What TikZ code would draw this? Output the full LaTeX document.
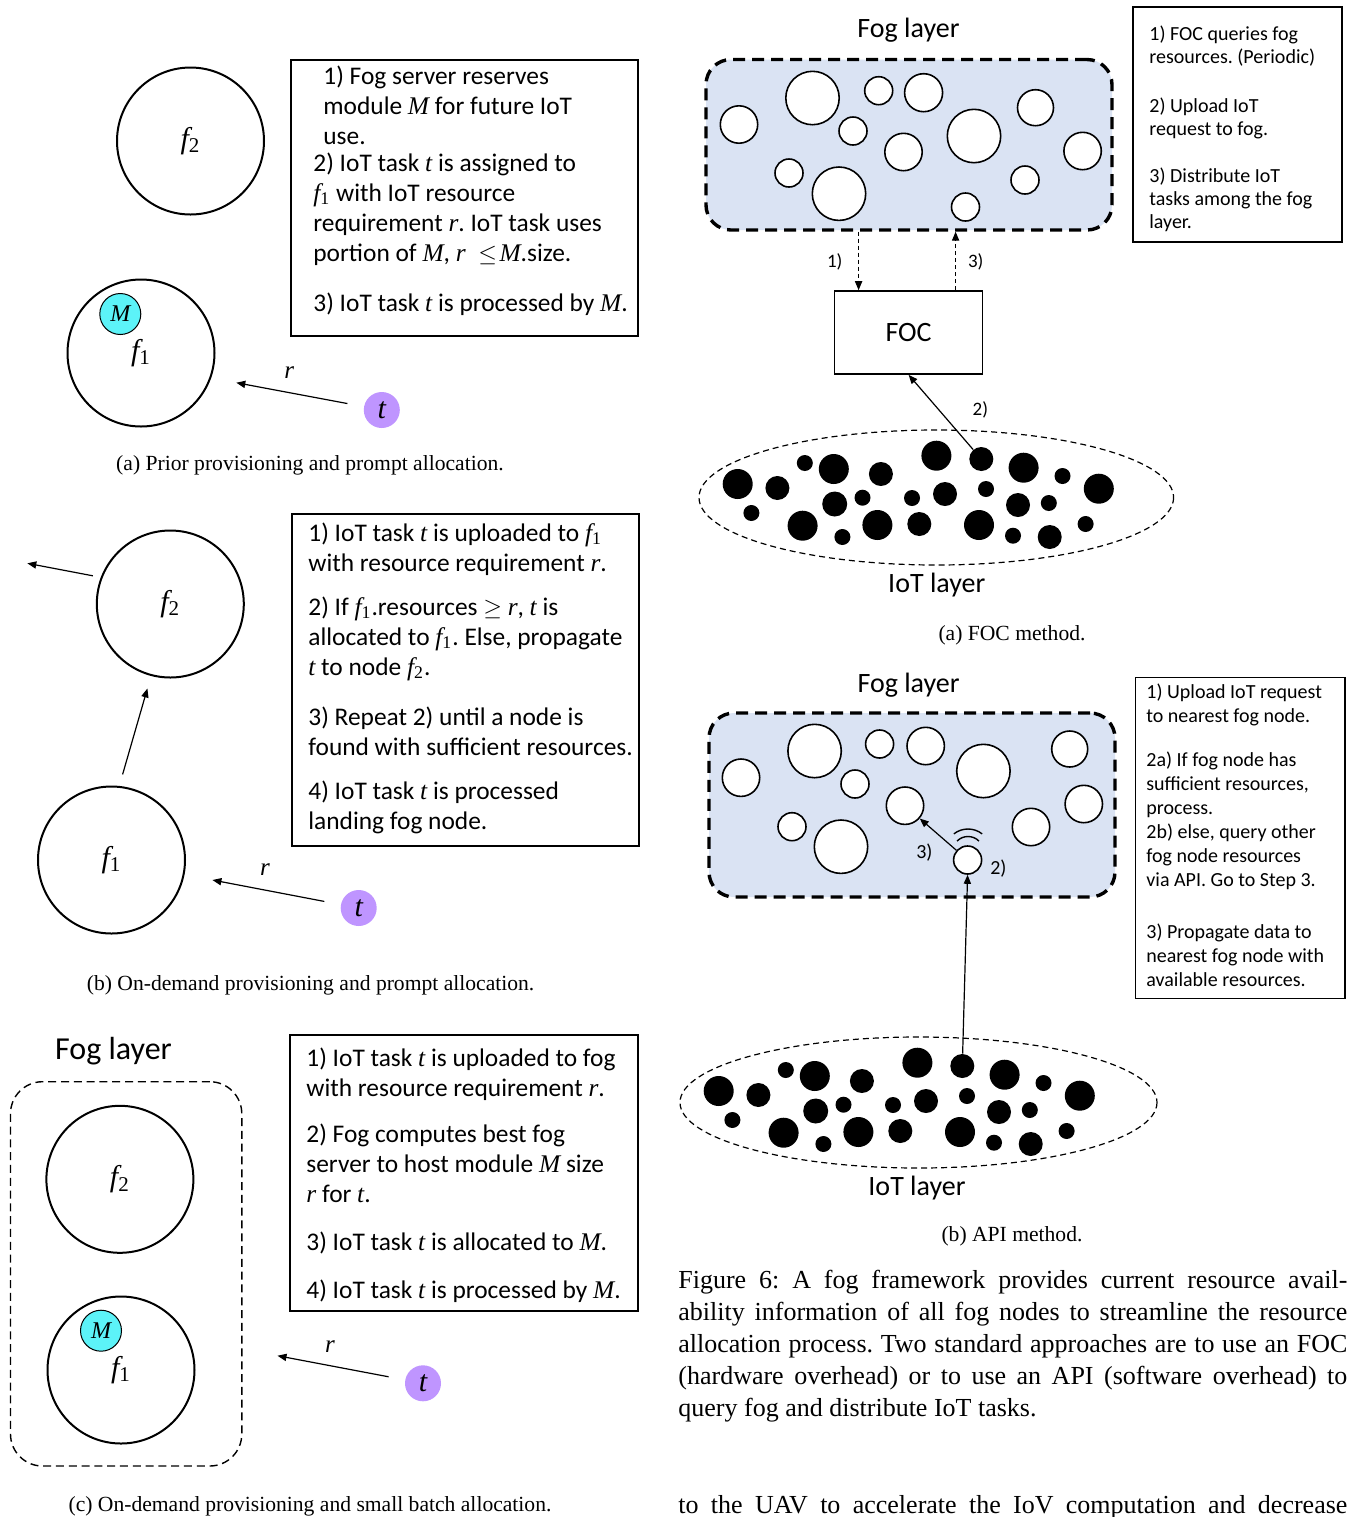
\documentclass[tikz,border=0pt]{standalone}
\usepackage{fontspec}
\setmainfont{Carlito}
\newfontfamily\serifcap{Liberation Serif}
\usetikzlibrary{arrows.meta,calc}
\definecolor{fogblue}{HTML}{DAE3F3}
\definecolor{modcyan}{HTML}{5CF3F8}
\definecolor{tasklav}{HTML}{BF95FF}
\newcommand\boxfontL{\fontsize{12.7}{15}\selectfont}
\newcommand\subcapfont{\serifcap\fontsize{10.8}{13}\selectfont}
% italic serif variables, optionally with a subscript
\newcommand\vi[1]{{\serifcap\itshape #1}}
\newcommand\vsub[2]{{\serifcap\itshape #1}\textsubscript{\serifcap #2}}
% IoT devices drawn as black dots (the device used by the arrow is a node)
\newcommand\iotdots{%
  \foreach \x/\y/\r in {737.7/484/15, 777.4/488/12, 804.8/463/8, 833.8/469/15,
      880.9/474/12, 936.4/455.7/15, 1023.6/467.7/15, 1062.5/476/8,
      1098.8/488.7/15, 751.4/513/8, 802.6/525.7/15, 834.7/504/12.5,
      862.5/497.7/8, 877.4/525/15, 912/498/8, 945/494/12, 986/489/8,
      919.3/524/12, 979/525/15, 1018/505/12, 1048.8/503/8, 1013/535.7/8,
      1049.7/537/12, 1085.6/524/8, 842.4/537/8}
    {\fill (\x,\y) circle[radius=\r];}}
\begin{document}
\frenchspacing
\begin{tikzpicture}[x=0.5pt,y=-0.5pt,
  arr/.style={line width=0.6pt,-{Triangle[length=4.5pt,width=3.6pt]}},
  dasharr/.style={arr,dash pattern=on 2pt off 1.5pt},
  fognode/.style={circle,draw,line width=1pt,minimum size=73.5pt,inner sep=0pt,
    font=\fontsize{15}{18}\selectfont},
  modnode/.style={circle,draw,line width=0.5pt,fill=modcyan,minimum size=20.5pt,
    inner sep=0pt,font=\fontsize{12}{14}\selectfont},
  tasknode/.style={circle,fill=tasklav,minimum size=18pt,inner sep=0pt,
    font=\fontsize{15}{17}\selectfont},
  rlabel/.style={font=\fontsize{12.5}{14}\selectfont,inner sep=0pt},
  infobox/.style={draw,line width=1pt,inner sep=0pt},
  smallbox/.style={draw,line width=0.8pt,inner sep=0pt},
  steptext/.style={anchor=base west,inner sep=0pt,text width=200pt,align=flush left,
    execute at begin node={\spaceskip=0pt\xspaceskip=0pt}},
  fogzone/.style={draw,fill=fogblue,line width=1.7pt,dash pattern=on 6pt off 3.5pt,
    rounded corners=12.5pt,inner sep=0pt},
  fogcirc/.style={draw,fill=white,line width=0.8pt},
  iotdot/.style={circle,fill=black,inner sep=0pt,minimum size=12pt},
  layertitle/.style={anchor=base,inner sep=0pt,font=\fontsize{14}{17}\selectfont},
  steplabel/.style={inner sep=0pt,font=\fontsize{9.5}{11}\selectfont},
  subcap/.style={anchor=base,inner sep=0pt,font=\subcapfont},
]
\useasboundingbox (0,0) rectangle (1351,1517);
\fill[white] (0,0) rectangle (1351,1517);
\clip (0,0) rectangle (1351,1517);

% ---------------- (a) prior provisioning, prompt allocation
\node[fognode] (f2A) at (190.5,141) {\raisebox{-2pt}{\vsub{f}{2}}};
\node[fognode] (f1A) at (141,353) {\raisebox{-2pt}{\vsub{f}{1}}};
\node[modnode] (MA) at (120.3,314) {\vi{M}};
\node[tasknode] (tA) at (381.8,410) {\vi{t}};
\coordinate (rA) at (236.3,382.7);
\draw[arr,shorten <=8.3pt] (tA) -- (rA);
\node[rlabel] (lrA) at (289.3,372.7) {\vi{r}};
\node[infobox,minimum width=173.5pt,minimum height=138pt] (boxA) at (464.5,198) {};
\node[steptext,font=\boxfontL] (txtA) at (313,84) {%
\hspace*{5pt}1) Fog server reserves\\
\hspace*{5pt}module \vi{M} for future IoT\\
\hspace*{5pt}use.\\[-1.5pt]
2) IoT task \vi{t} is assigned to\\
\vsub{f}{1} with IoT resource\\
requirement \vi{r}. IoT task uses\\
portion of \vi{M}, \vi{r}\hspace{0.5em}$\leq$\hspace{0.1em}\vi{M}.size.\\[10pt]
3) IoT task \vi{t} is processed by \vi{M}.};
\node[subcap] (capA) at (310,470) {(a) Prior provisioning and prompt allocation.};

% ---------------- (b) on-demand provisioning, prompt allocation
\node[fognode] (f2B) at (170.3,604) {\raisebox{-2pt}{\vsub{f}{2}}};
\node[fognode] (f1B) at (111.5,860) {\raisebox{-2pt}{\vsub{f}{1}}};
\node[tasknode] (tB) at (358.7,908) {\vi{t}};
\coordinate (rB) at (212.4,880);
\coordinate (outB) at (27.3,563.3);
\draw[arr,shorten <=8.3pt] (tB) -- (rB);
\draw[arr,shorten <=6pt,shorten >=6.5pt] (f1B.84) -- (f2B.-105);
\draw[arr,shorten <=4pt] (f2B.159) -- (outB);
\node[rlabel] (lrB) at (265,870) {\vi{r}};
\node[infobox,minimum width=173.5pt,minimum height=166pt] (boxB) at (465.5,679.5) {};
\node[steptext,font=\boxfontL] (txtB) at (308,541) {%
1) IoT task \vi{t} is uploaded to \vsub{f}{1}\\
with resource requirement \vi{r}.\\[7pt]
2) If \vsub{f}{1}.resources $\geq$ \vi{r}, \vi{t} is\\
allocated to \vsub{f}{1}. Else, propagate\\
\vi{t} to node \vsub{f}{2}.\\[10pt]
3) Repeat 2) until a node is\\
found with sufficient resources.\\[7pt]
4) IoT task \vi{t} is processed\\
landing fog node.};
\node[subcap] (capB) at (310.6,990) {(b) On-demand provisioning and prompt allocation.};

% ---------------- (c) on-demand provisioning, small batch allocation
\node[layertitle,font=\fontsize{16}{19}\selectfont] (titleC) at (113.5,1059.3) {Fog layer};
\node[draw,line width=0.7pt,dash pattern=on 4pt off 2.4pt,rounded corners=16pt,
  minimum width=115.65pt,minimum height=192.15pt,inner sep=0pt] (fogC) at (126.15,1273.85) {};
\node[fognode] (f2C) at (119.9,1179.3) {\raisebox{-2pt}{\vsub{f}{2}}};
\node[fognode] (f1C) at (121,1370) {\raisebox{-2pt}{\vsub{f}{1}}};
\node[modnode] (MC) at (101,1330.7) {\vi{M}};
\node[tasknode] (tC) at (423,1383.3) {\vi{t}};
\coordinate (rC) at (277.5,1355.7);
\draw[arr,shorten <=8.3pt] (tC) -- (rC);
\node[rlabel] (lrC) at (330,1346.7) {\vi{r}};
\node[infobox,minimum width=174pt,minimum height=138.25pt] (boxC) at (464,1172.75) {};
\node[steptext,font=\boxfontL] (txtC) at (306,1066) {%
1) IoT task \vi{t} is uploaded to fog\\
with resource requirement \vi{r}.\\[8pt]
2) Fog computes best fog\\
server to host module \vi{M} size\\
\vi{r} for \vi{t}.\\[9pt]
3) IoT task \vi{t} is allocated to \vi{M}.\\[9pt]
4) IoT task \vi{t} is processed by \vi{M}.};
\node[subcap] (capC) at (310,1511.7) {(c) On-demand provisioning and small batch allocation.};

% ---------------- FOC method
\node[layertitle] (titleFA) at (908.5,37.3) {Fog layer};
\node[fogzone,minimum width=203pt,minimum height=85.25pt] (fogA) at (909,144.75) {};
\foreach \x/\y/\r in {739/124.5/18.7, 812.5/98/26.7, 878.7/90.7/14, 923.6/92.7/19,
    853/131/14, 903.5/152/18.7, 974/136/26.7, 1035.5/107.7/18, 1082.6/151/18.7,
    789/173/14, 839/193.7/26.7, 1025/180/14, 965.5/207/14}
  {\draw[fogcirc] (\x,\y) circle[radius=\r];}
\node[draw,line width=0.8pt,minimum width=74pt,minimum height=41.5pt,inner sep=0pt,
  font=\fontsize{14}{17}\selectfont] (foc) at (908.6,332.5) {FOC};
\draw[dasharr] ([xshift=-25pt]foc.north |- fogA.south) -- ([xshift=-25pt]foc.north);
\draw[dasharr] ([xshift=23.5pt]foc.north) -- ([xshift=23.5pt]foc.north |- fogA.south);
\node[steplabel] (s1A) at (834.7,261.7) {1)};
\node[steplabel] (s3A) at (975.7,261.7) {3)};
\draw[dash pattern=on 3pt off 2pt,line width=0.6pt] (936.3,497.5) ellipse[x radius=237.3,y radius=67.5];
\iotdots
\node[iotdot] (iotA) at (981.3,459) {};
\draw[arr] (iotA) -- (foc.south);
\node[steplabel] (s2A) at (980.4,410) {2)};
\node[layertitle] (iotTA) at (936.8,592.7) {IoT layer};
\node[smallbox,minimum width=104.5pt,minimum height=117.5pt] (boxFOC) at (1237.5,124.5) {};
\node[steptext,font=\fontsize{10}{11.6}\selectfont] (txtFOC) at (1149,40.7) {%
1) FOC queries fog\\
resources. (Periodic)\\[12.5pt]
2) Upload IoT\\
request to fog.\\[12pt]
3) Distribute IoT\\
tasks among the fog\\
layer.};
\node[subcap] (capFOC) at (1012,640) {(a) FOC method.};

% ---------------- API method
\node[layertitle] (titleFB) at (908.6,692.3) {Fog layer};
\node[fogzone,minimum width=203pt,minimum height=92pt] (fogB) at (912,805) {};
\foreach \x/\y/\r in {741/777.7/18.7, 814.6/751/26.7, 879.6/744/14, 925.7/746/18.7,
    855/784/14, 983.4/771/26.7, 1069.7/749/18, 1083.8/804/18.7,
    792/826.7/14, 841/846.7/26.7, 1031/827/18.7}
  {\draw[fogcirc] (\x,\y) circle[radius=\r];}
\node[circle,draw,fill=white,line width=0.8pt,minimum size=18.7pt,inner sep=0pt] (apiDst) at (905,805.7) {};
\node[circle,draw,fill=white,line width=0.8pt,minimum size=14pt,inner sep=0pt] (apiSrc) at (967.6,860) {};
\coordinate (wc) at (968,852);
\draw[line width=0.7pt] (wc) ++(225:15.5) arc[start angle=225,end angle=315,radius=15.5];
\draw[line width=0.7pt] (wc) ++(232:23) arc[start angle=232,end angle=308,radius=23];
\draw[arr] (apiSrc) -- (apiDst);
\node[steplabel,font=\fontsize{10}{12}\selectfont] (s3B) at (924.4,852.7) {3)};
\node[steplabel,font=\fontsize{10}{12}\selectfont] (s2B) at (998.4,868.3) {2)};
\draw[dash pattern=on 3pt off 2pt,line width=0.6pt] (918.5,1102.5) ellipse[x radius=238.5,y radius=65.5];
\begin{scope}[shift={(-19,607)}]
  \iotdots
\end{scope}
\node[iotdot] (iotB) at (962.3,1066) {};
\draw[arr] (iotB) -- (apiSrc.south);
\node[layertitle] (iotTB) at (917,1195.7) {IoT layer};
\node[smallbox,minimum width=104.75pt,minimum height=160.5pt] (boxAPI) at (1240.25,838) {};
\node[steptext,font=\fontsize{10}{12}\selectfont] (txtAPI) at (1146,698.3) {%
1) Upload IoT request\\
to nearest fog node.\\[10.2pt]
2a) If fog node has\\
sufficient resources,\\
process.\\
2b) else, query other\\
fog node resources\\
via API. Go to Step 3.\\[13.7pt]
3) Propagate data to\\
nearest fog node with\\
available resources.};
\node[subcap] (capAPI) at (1012,1241.7) {(b) API method.};

% ---------------- figure caption and running text
\node[anchor=base west,inner sep=0pt,text width=334.5pt,align=justify,
  font=\serifcap\fontsize{13}{16}\selectfont] (figcap) at (678,1288.3) {%
Figure 6: A fog framework provides current resource avail-\linebreak
ability information of all fog nodes to streamline the resource\linebreak
allocation process. Two standard approaches are to use an FOC\linebreak
(hardware overhead) or to use an API (software overhead) to\linebreak
query fog and distribute IoT tasks.};
\node[anchor=base west,inner sep=0pt,font=\serifcap\fontsize{13}{16}\selectfont] (bodyline) at (678,1513)
  {\makebox[334.5pt][s]{to the UAV to accelerate the IoV computation and decrease}};
\end{tikzpicture}
\end{document}
